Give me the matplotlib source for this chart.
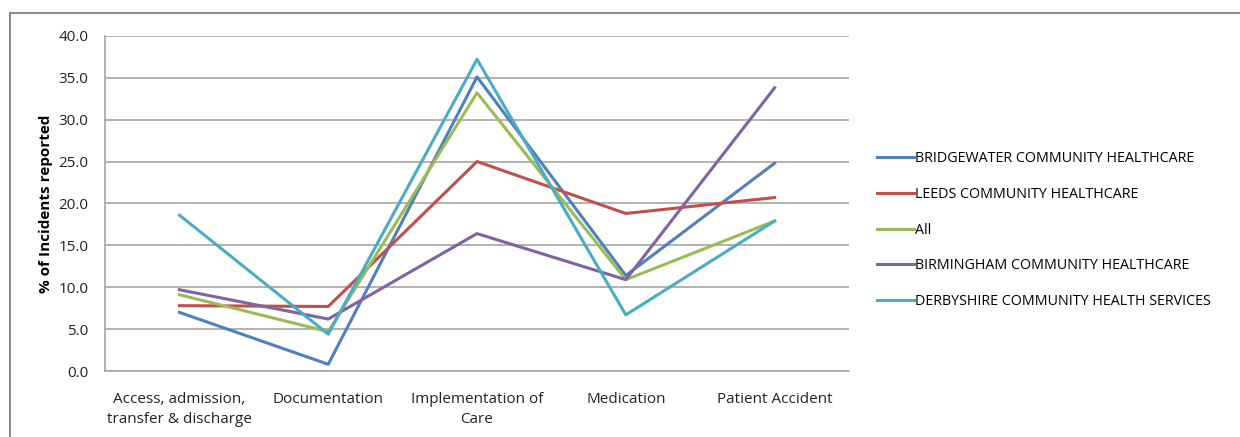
import matplotlib
matplotlib.use('Agg')
import matplotlib.pyplot as plt
from matplotlib.patches import Rectangle
import numpy as np

plt.rcParams['font.family'] = ['Open Sans', 'DejaVu Sans']

categories = ['Access, admission,\ntransfer & discharge', 'Documentation',
              'Implementation of\nCare', 'Medication', 'Patient Accident']
series_names = ['BRIDGEWATER COMMUNITY HEALTHCARE', 'LEEDS COMMUNITY HEALTHCARE', 'All',
                'BIRMINGHAM COMMUNITY HEALTHCARE', 'DERBYSHIRE COMMUNITY HEALTH SERVICES']
bridgewater = [7.0, 0.8, 35.1, 11.4, 24.8]
leeds = [7.8, 7.7, 25.0, 18.8, 20.7]
all_trusts = [9.1, 4.7, 33.2, 10.9, 17.9]
birmingham = [9.7, 6.2, 16.4, 10.9, 33.8]
derbyshire = [18.6, 4.4, 37.2, 6.7, 17.9]
colors = ['#4F81BD', '#C0504D', '#9BBB59', '#8064A2', '#4BACC6']
yticks = [0, 5, 10, 15, 20, 25, 30, 35, 40]

fig = plt.figure(figsize=(12.4, 4.37), dpi=100)
ax = fig.add_axes([0.0847, 0.151, 0.600, 0.767])

# outer chart frame
fig.patches.append(Rectangle((0.008, -0.1), 1.1, 1.07, transform=fig.transFigure,
                             fill=False, edgecolor='#8c8c8c', linewidth=1.5))

x = np.arange(len(categories))
for vals, name, c in zip([bridgewater, leeds, all_trusts, birmingham, derbyshire], series_names, colors):
    ax.plot(x, vals, color=c, linewidth=2.2, label=name)

ax.set_xlim(-0.5, len(categories) - 0.5)
ax.set_ylim(0, 40)
ax.set_yticks(yticks)
ax.set_yticklabels([f'{v:.1f}' for v in yticks], fontsize=11, color='#222222')
ax.set_xticks(x)
ax.set_xticklabels(categories, fontsize=11, color='#222222', linespacing=1.5)
ax.tick_params(axis='both', length=0)
ax.tick_params(axis='x', pad=15)
ax.tick_params(axis='y', pad=12)
ax.grid(axis='y', color='#a6a6a6', linewidth=1.2)
ax.set_axisbelow(True)
for s in ['top', 'right']:
    ax.spines[s].set_visible(False)
for s in ['left', 'bottom']:
    ax.spines[s].set_color('#a6a6a6')
    ax.spines[s].set_linewidth(1.2)

ax.set_ylabel('% of Incidents reported', fontsize=11, fontweight='bold', labelpad=4)

ax.legend(loc='center left', bbox_to_anchor=(1.02, 0.42), frameon=False, fontsize=10.3,
          handlelength=2.6, handletextpad=0.1, labelspacing=1.45)

fig.savefig('out.png', dpi=100)
